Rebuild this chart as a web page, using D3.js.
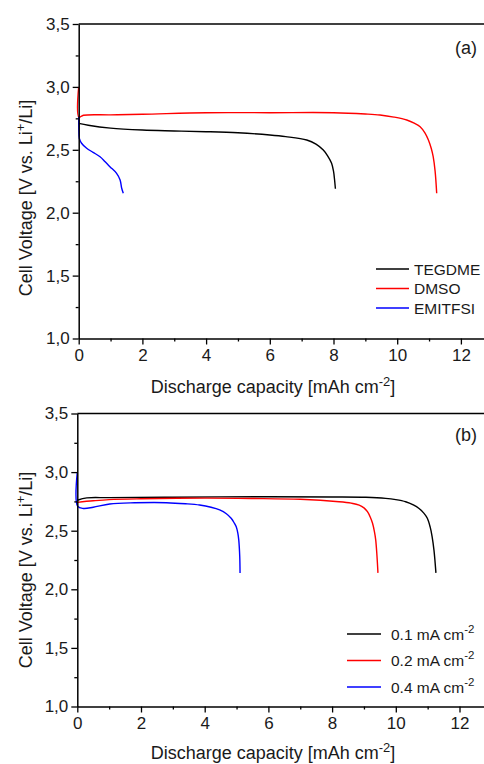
<!DOCTYPE html>
<html>
<head>
<meta charset="utf-8">
<script src="https://cdn.jsdelivr.net/npm/d3@7"></script>
<style>
  body { margin: 0; background: #fff; }
  svg text { font-family: "Liberation Sans", Arial, sans-serif; fill: #1a1a1a; }
</style>
</head>
<body>
<div id="chart"></div>
<script>
// ---- data (capacity in mAh cm-2, voltage in V) ----
var xTicks = [0, 2, 4, 6, 8, 10, 12];
var yTicks = [1.0, 1.5, 2.0, 2.5, 3.0, 3.5];

// panel (a): electrolytes
var tegdme = [[0,2.71],[0.3,2.695],[1,2.672],[2,2.657],[3,2.65],[4,2.644],[5,2.635],[6,2.618],[6.5,2.605],[7.16,2.578],[7.45,2.545],[7.68,2.498],[7.82,2.45],[7.94,2.393],[8.0,2.33],[8.03,2.27],[8.06,2.19]];
var dmso = [[0,3.0],[0.005,2.76],[0.15,2.775],[1,2.778],[2,2.782],[4,2.795],[6,2.795],[8,2.795],[9,2.785],[9.46,2.777],[9.9,2.76],[10.3,2.737],[10.55,2.71],[10.72,2.684],[10.87,2.635],[10.98,2.578],[11.07,2.51],[11.13,2.445],[11.19,2.33],[11.24,2.155]];
var emitfsi = [[0,2.76],[0.005,2.65],[0.02,2.59],[0.09,2.552],[0.25,2.512],[0.45,2.48],[0.67,2.445],[0.83,2.405],[0.98,2.366],[1.19,2.313],[1.3,2.26],[1.35,2.194],[1.4,2.155]];
var seriesA = ["TEGDME", "DMSO", "EMITFSI"];

// panel (b): current densities
var cur01 = [[0,2.76],[0.3,2.78],[1,2.782],[3,2.786],[6,2.79],[8,2.788],[9.06,2.785],[9.68,2.776],[10.0,2.765],[10.31,2.747],[10.55,2.72],[10.73,2.69],[10.88,2.65],[10.99,2.606],[11.08,2.53],[11.14,2.45],[11.2,2.33],[11.26,2.14]];
var cur02 = [[0,2.742],[0.5,2.755],[1,2.765],[2,2.772],[4,2.778],[5.5,2.775],[7,2.768],[8.22,2.747],[8.6,2.735],[8.85,2.719],[9.0,2.695],[9.11,2.662],[9.2,2.615],[9.27,2.563],[9.33,2.49],[9.37,2.42],[9.41,2.28],[9.44,2.14]];
var cur04 = [[0,3.0],[0.01,2.71],[0.19,2.69],[0.5,2.7],[1.02,2.728],[1.8,2.738],[2.8,2.739],[3.4,2.73],[3.84,2.719],[4.2,2.7],[4.47,2.677],[4.68,2.645],[4.83,2.606],[4.93,2.565],[4.99,2.534],[5.04,2.48],[5.07,2.42],[5.1,2.28],[5.11,2.14]];
var seriesB = ["0.1", "0.2", "0.4"];

var colors = ["#000000", "#ff0000", "#0000ff"];

var W = 484, H = 764;
var svg = d3.select("#chart").append("svg").attr("width", W).attr("height", H);

function commaFmt(d) { return d3.format(".1f")(d).replace(".", ","); }

function drawPanel(opt) {
  var x = d3.scaleLinear().domain([0, 12.8]).range([opt.left, opt.left + 12.8 * 31.85]);
  var y = d3.scaleLinear().domain([1.0, 3.5]).range([opt.bottom, opt.top]);
  var g = svg.append("g");

  // curves
  var line = d3.line().x(function(d){ return x(d[0]); }).y(function(d){ return y(d[1]); })
               .curve(d3.curveCatmullRom.alpha(0.5));
  opt.data.forEach(function(s, i) {
    g.append("path").datum(s).attr("d", line)
      .attr("fill", "none").attr("stroke", colors[i]).attr("stroke-width", 1.4);
  });

  // minor ticks
  g.append("g").attr("transform", "translate(0," + opt.bottom + ")")
    .call(d3.axisBottom(x).tickValues(d3.range(1, 13, 2)).tickSize(3).tickFormat(""))
    .call(function(a){ a.select(".domain").remove(); });
  g.append("g").attr("transform", "translate(" + opt.left + ",0)")
    .call(d3.axisLeft(y).tickValues(d3.range(1.25, 3.5, 0.5)).tickSize(3).tickFormat(""))
    .call(function(a){ a.select(".domain").remove(); });

  // major axes
  var xa = g.append("g").attr("transform", "translate(0," + opt.bottom + ")")
    .call(d3.axisBottom(x).tickValues(xTicks).tickSize(6).tickSizeOuter(0).tickPadding(4));
  var ya = g.append("g").attr("transform", "translate(" + opt.left + ",0)")
    .call(d3.axisLeft(y).tickValues(yTicks).tickFormat(commaFmt).tickSize(6).tickSizeOuter(0).tickPadding(3));
  [xa, ya].forEach(function(a){
    a.selectAll("text").style("font-size", "17px").attr("fill", "#1a1a1a");
    a.select(".domain").attr("stroke", "#000").attr("stroke-width", 1.5);
  });
  g.selectAll(".tick line").attr("stroke", "#000").attr("stroke-width", 1.3);

  // top border
  g.append("line").attr("x1", opt.left).attr("x2", W).attr("y1", opt.top).attr("y2", opt.top)
    .attr("stroke", "#000").attr("stroke-width", 1.5);

  // axis titles
  var xt = g.append("text").attr("x", 273).attr("y", opt.xTitleY)
    .attr("text-anchor", "middle").style("font-size", "18px");
  xt.append("tspan").text("Discharge capacity [mAh cm");
  xt.append("tspan").attr("dy", -7).style("font-size", "13px").text("-2");
  xt.append("tspan").attr("dy", 7).text("]");

  var yt = g.append("text").attr("transform", "translate(" + opt.yTitleX + "," + opt.yTitleY + ") rotate(-90)")
    .attr("text-anchor", "middle").style("font-size", "18px");
  yt.append("tspan").text("Cell Voltage [V vs. Li");
  yt.append("tspan").attr("dy", -7).style("font-size", "13px").text("+");
  yt.append("tspan").attr("dy", 7).text("/Li]");

  // panel label
  g.append("text").attr("x", 477).attr("y", opt.labelY).attr("text-anchor", "end")
    .style("font-size", "18px").text(opt.label);

  // legend
  opt.names.forEach(function(n, i) {
    var ly = opt.legY + i * opt.legStep;
    g.append("line").attr("x1", opt.legX).attr("x2", opt.legX + opt.legLen)
      .attr("y1", ly).attr("y2", ly).attr("stroke", colors[i]).attr("stroke-width", 1.6);
    var t = g.append("text").attr("x", opt.legX + opt.legLen + opt.legGap).attr("y", ly + 5.5)
      .style("font-size", "15.5px");
    if (opt.unit) {
      t.append("tspan").text(n + " mA cm");
      t.append("tspan").attr("dy", -7).style("font-size", "11.5px").text("-2");
    } else {
      t.text(n);
    }
  });
}

drawPanel({ data: [tegdme, dmso, emitfsi], names: seriesA, unit: false, label: "(a)",
  left: 78.7, top: 24, bottom: 338.5, xTitleY: 393, yTitleX: 32, yTitleY: 198, labelY: 54,
  legX: 376, legLen: 33, legGap: 5, legY: 269, legStep: 19.5 });

drawPanel({ data: [cur01, cur02, cur04], names: seriesB, unit: true, label: "(b)",
  left: 77.3, top: 413.5, bottom: 706.5, xTitleY: 759, yTitleX: 32, yTitleY: 570, labelY: 441,
  legX: 347, legLen: 34, legGap: 10, legY: 634, legStep: 26.5 });
</script>
</body>
</html>
